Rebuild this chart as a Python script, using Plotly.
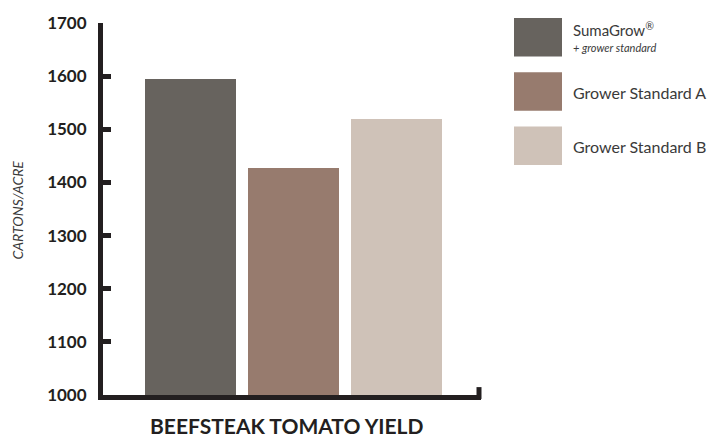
import plotly.graph_objects as go

categories = ["SumaGrow® + grower standard", "Grower Standard A", "Grower Standard B"]
legend_main = ["SumaGrow<sup>®</sup>", "Grower Standard A", "Grower Standard B"]
legend_sub = ["+ grower standard", "", ""]
values = [1595, 1428, 1519]
colors = ["#67635e", "#977b6e", "#cfc2b8"]
tick_vals = [1000, 1100, 1200, 1300, 1400, 1500, 1600, 1700]
chart_title = "BEEFSTEAK TOMATO YIELD"
y_title = "CARTONS/ACRE"

W, H = 725, 439
L, R, T, B = 103, 481, 18, 395  # plot area in pixels
AX = "#231f20"
TXT = "#3a3a3a"

def px_x(p):
    return (p - L) / (R - L)

def px_y(p):
    return (B - p) / (B - T)

fig = go.Figure()
fig.add_trace(go.Bar(
    x=list(range(len(categories))),
    y=[v - 1000 for v in values],
    base=1000,
    marker=dict(color=colors, line=dict(width=0)),
    width=0.883,
    hovertext=categories,
    showlegend=False,
))

shapes = []
annotations = []
# custom legend built from series names/colours
sw_top = [13, 68, 123]
for i, (name, sub, col) in enumerate(zip(legend_main, legend_sub, colors)):
    y0 = sw_top[i]
    shapes.append(dict(type="rect", xref="paper", yref="paper",
                       x0=px_x(514), x1=px_x(562), y0=px_y(y0 + 39), y1=px_y(y0),
                       fillcolor=col, line=dict(width=0)))
    if sub:
        annotations.append(dict(xref="paper", yref="paper", x=px_x(571), y=px_y(y0 + 23),
                                text=name, showarrow=False, xanchor="left", yanchor="bottom",
                                font=dict(family="Lato", size=15, color=TXT)))
        annotations.append(dict(xref="paper", yref="paper", x=px_x(571), y=px_y(y0 + 30),
                                text="<i>" + sub + "</i>", showarrow=False, xanchor="left",
                                yanchor="middle",
                                font=dict(family="Lato", size=11, color=TXT)))
    else:
        annotations.append(dict(xref="paper", yref="paper", x=px_x(571), y=px_y(y0 + 20),
                                text=name, showarrow=False, xanchor="left", yanchor="middle",
                                font=dict(family="Lato", size=16, color=TXT)))

# right end tick of x axis
shapes.append(dict(type="line", xref="paper", yref="paper",
                   x0=px_x(479), x1=px_x(479), y0=px_y(399), y1=px_y(387),
                   line=dict(color=AX, width=5)))

annotations.append(dict(xref="paper", yref="paper", x=px_x(286), y=px_y(426),
                        text="<b>" + chart_title + "</b>", showarrow=False,
                        xanchor="center", yanchor="middle",
                        font=dict(family="Lato", size=21, color=AX)))
annotations.append(dict(xref="paper", yref="paper", x=px_x(17), y=px_y(208),
                        text="<i>" + y_title + "</i>", showarrow=False, textangle=-90,
                        xanchor="center", yanchor="middle",
                        font=dict(family="Lato", size=14, color=TXT)))

fig.update_layout(
    width=W, height=H,
    margin=dict(l=L, r=W - R, t=T, b=H - B, pad=0),
    paper_bgcolor="white", plot_bgcolor="white",
    shapes=shapes, annotations=annotations,
    xaxis=dict(range=[-0.85, 2.82], showgrid=False, zeroline=False, showticklabels=False,
               showline=True, linewidth=5, linecolor=AX, ticks=""),
    yaxis=dict(range=[1000, 1700], tickvals=tick_vals, showgrid=False, zeroline=False,
               showline=True, linewidth=5, linecolor=AX, ticks="inside", ticklen=8,
               tickwidth=5, tickcolor=AX, ticklabelstandoff=8,
               tickfont=dict(family="Lato", size=17, color=AX, weight="bold")),
    bargap=0,
)

fig.write_html("out.html", config={"displayModeBar": False},
               post_script="document.body.style.margin='0';")
